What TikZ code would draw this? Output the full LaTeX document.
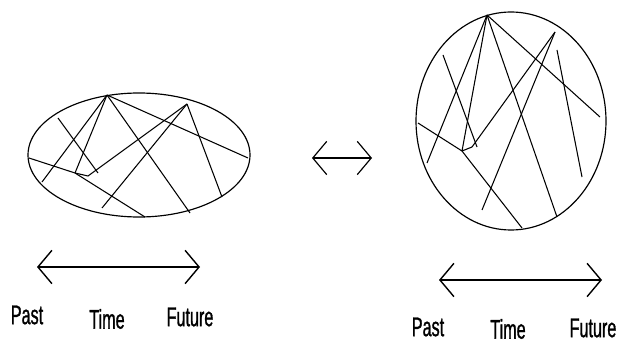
\documentclass[tikz,border=0pt]{standalone}
\usepackage{fontspec}
\newfontfamily\narrowfont[FakeStretch=0.6,FakeBold=1]{Liberation Sans}
\usetikzlibrary{arrows.meta}

\begin{document}
\begin{tikzpicture}[x=0.03cm,y=-0.03cm,line width=0.9pt,
    world/.style={line width=1pt},
    timeaxis/.style={line width=1.2pt,{Straight Barb[length=0.42cm,width=1.0cm]}-{Straight Barb[length=0.42cm,width=1.0cm]}},
    lab/.style={font=\narrowfont\fontsize{23}{26}\selectfont,inner sep=0pt}]
        \useasboundingbox (0,0) rectangle (618,344);
        % left world: wide in time
        \draw[world] (139,155) ellipse [x radius=111,y radius=62];
        \coordinate (la) at (107,95);
        \coordinate (lb) at (187,104);
        \coordinate (lk) at (75,173);
        \draw (58,118) -- (98,173);
        \draw (la) -- (42,182);
        \draw (la) -- (lk);
        \draw (lb) -- (88,176) -- (lk);
        \draw (29,158) -- (lk) -- (145,217);
        \draw (la) -- (190,213);
        \draw (la) -- (248,158);
        \draw (lb) -- (102,208);
        \draw (lb) -- (222,197);
        % right world: narrow in time
        \draw[world] (511,121) ellipse [x radius=95,y radius=109];
        \coordinate (ra) at (487,15);
        \coordinate (rb) at (555,32);
        \coordinate (rk) at (462,151);
        \draw (443,55) -- (477,147);
        \draw (ra) -- (427,163);
        \draw (ra) -- (rk);
        \draw (rb) -- (472,147) -- (rk);
        \draw (418,123) -- (rk) -- (522,228);
        \draw (ra) -- (557,217);
        \draw (ra) -- (600,117);
        \draw (rb) -- (482,210);
        \draw (557,50) -- (582,177);
        % equivalence arrow
        \coordinate (eqa) at (312,158);
        \coordinate (eqb) at (372,158);
        \draw[timeaxis,line width=1pt] (eqa) -- (eqb);
        % time axes
        \coordinate (lpast) at (37,267);
        \coordinate (lfut) at (200,267);
        \draw[timeaxis] (lpast) -- (lfut);
        \node[lab] (lpastl) at (27,315) {Past};
        \node[lab] (ltimel) at (107,319) {Time};
        \node[lab] (lfutl) at (190,317) {Future};
        \coordinate (rpast) at (439,280);
        \coordinate (rfut) at (602,280);
        \draw[timeaxis] (rpast) -- (rfut);
        \node[lab] (rpastl) at (428,327) {Past};
        \node[lab] (rtimel) at (508,329) {Time};
        \node[lab] (rfutl) at (593,328) {Future};
    \end{tikzpicture}
\end{document}
